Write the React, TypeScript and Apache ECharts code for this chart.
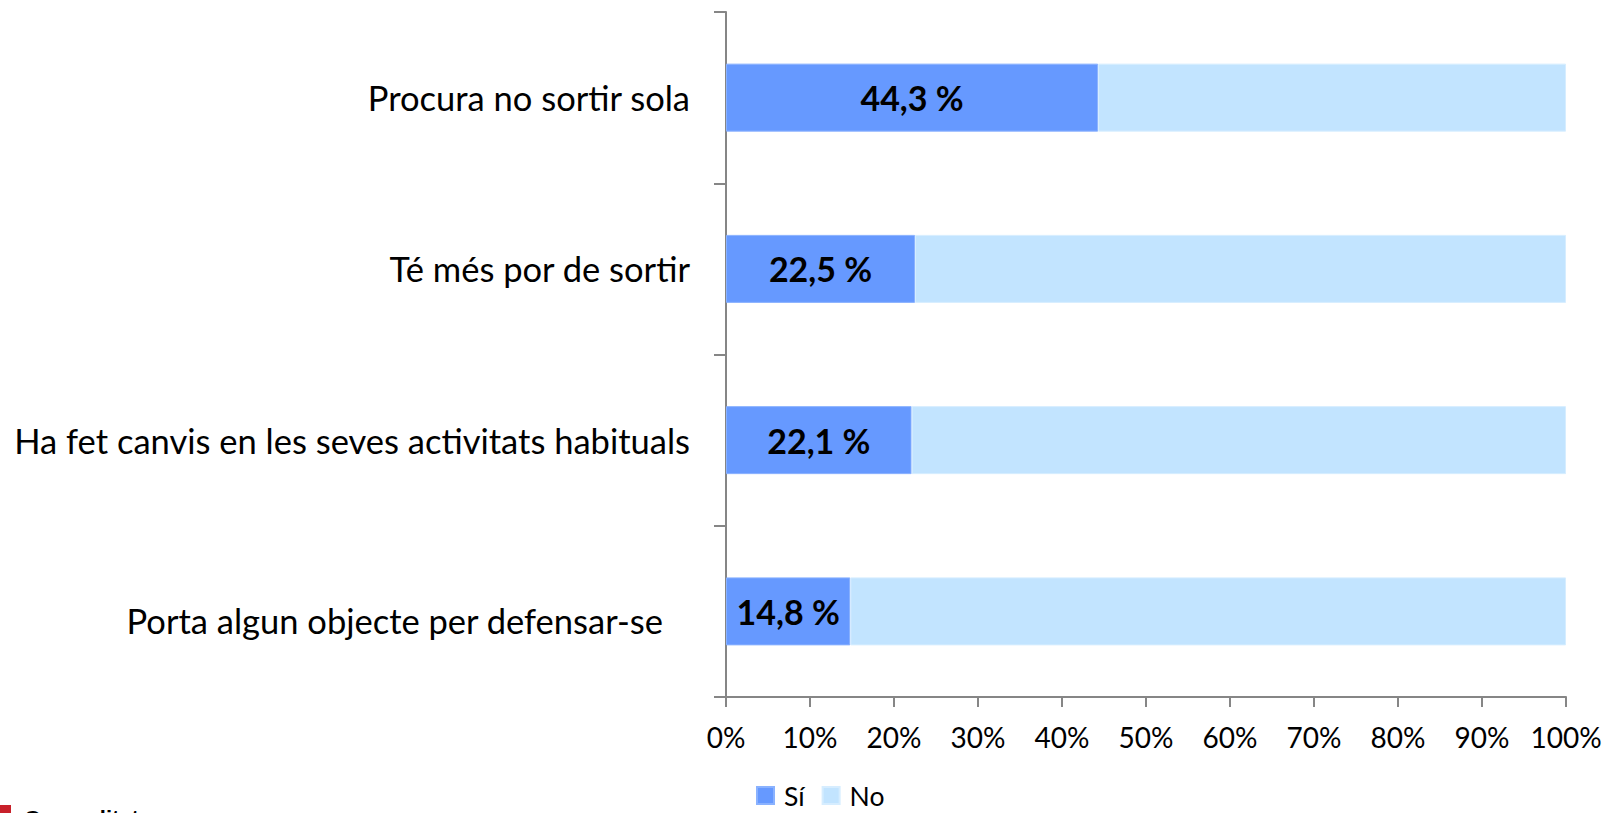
import React, { useEffect, useRef } from "react";
import * as echarts from "echarts";

const categories = [
  "Porta algun objecte per defensar-se",
  "Ha fet canvis en les seves activitats habituals",
  "Té més por de sortir",
  "Procura no sortir sola",
];
const siValues = [14.8, 22.1, 22.5, 44.3];
const noValues = [85.2, 77.9, 77.5, 55.7];
const seriesNames = ["Sí", "No"];
const xTicks = [0, 10, 20, 30, 40, 50, 60, 70, 80, 90, 100];

export default function App() {
  const ref = useRef<HTMLDivElement>(null);
  useEffect(() => {
    if (!ref.current) return;
    const chart = echarts.init(ref.current, null, { renderer: "svg" });
    const font = "Lato, 'Open Sans', sans-serif";
    chart.setOption({
      animation: false,
      grid: { left: 726, right: 44, top: 12, bottom: 116, containLabel: false },
      legend: {
        data: seriesNames,
        left: 756,
        top: 782,
        padding: 0,
        itemWidth: 17,
        itemHeight: 17,
        itemGap: 17,
        icon: "rect",
        textStyle: {
          fontFamily: font,
          fontSize: 26.5,
          lineHeight: 26,
          color: "#000",
          padding: [0, 0, 0, 5],
        },
      },
      xAxis: {
        type: "value",
        min: xTicks[0],
        max: xTicks[xTicks.length - 1],
        interval: 10,
        axisLine: { show: true, lineStyle: { color: "#868686", width: 2 } },
        axisTick: { show: true, length: 10, lineStyle: { color: "#868686", width: 2 } },
        splitLine: { show: false },
        axisLabel: {
          formatter: (v: number) => v + "%",
          fontFamily: font,
          fontSize: 28,
          color: "#000",
          margin: 26,
        },
      },
      yAxis: {
        type: "category",
        data: categories,
        axisLine: { show: true, lineStyle: { color: "#868686", width: 2 } },
        axisTick: { show: true, length: 12, lineStyle: { color: "#868686", width: 2 } },
        axisLabel: {
          fontFamily: font,
          fontSize: 34.5,
          color: "#000",
          margin: 36,
          formatter: (v: string) => (v === categories[0] ? "{p|" + v + "}" : v),
          rich: {
            p: {
              fontFamily: font,
              fontSize: 34.5,
              color: "#000",
              padding: [18, 27, 0, 0],
            },
          },
        },
      },
      series: [
        {
          name: seriesNames[0],
          type: "bar",
          stack: "total",
          data: siValues,
          barWidth: 68,
          itemStyle: { color: "#6699FF", borderColor: "#8AB2FF", borderWidth: 1 },
          label: {
            show: true,
            position: "inside",
            formatter: (p: any) => String(p.value).replace(".", ",") + " %",
            fontFamily: font,
            fontWeight: "bold",
            fontSize: 34,
            color: "#000",
          },
        },
        {
          name: seriesNames[1],
          type: "bar",
          stack: "total",
          data: noValues,
          barWidth: 68,
          itemStyle: { color: "#C2E4FF", borderColor: "#D6EDFF", borderWidth: 1 },
        },
      ],
      graphic: [
        {
          type: "rect",
          left: 0,
          top: 805,
          shape: { width: 11, height: 8 },
          style: { fill: "#C8202A" },
        },
        {
          type: "text",
          left: 24,
          top: 807,
          style: {
            text: "Generalitat",
            fontFamily: "'Liberation Sans', Arial, sans-serif",
            fontWeight: "bold",
            fontSize: 22,
            fill: "#000",
          },
        },
      ],
    });
    return () => chart.dispose();
  }, []);
  return <div ref={ref} style={{ width: 1610, height: 813, position: "absolute", left: 0, top: 0 }} />;
}
